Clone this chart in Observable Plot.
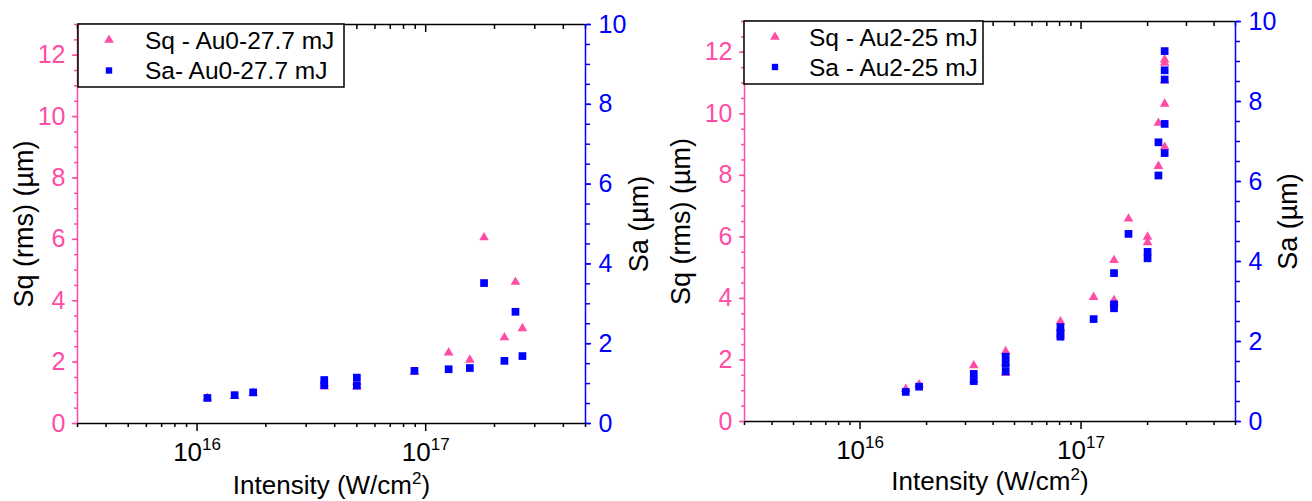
<!DOCTYPE html>
<html>
<head>
<meta charset="utf-8">
<script src="https://cdn.jsdelivr.net/npm/d3@7"></script>
<script src="https://cdn.jsdelivr.net/npm/@observablehq/plot@0.6"></script>
<style>
  body { margin: 0; background: #fff; }
  #fig { position: relative; width: 1312px; height: 501px; overflow: hidden; background: #fff;
         font-family: "Liberation Sans", Arial, sans-serif; }
  .layer { position: absolute; top: 0; }
  .layer svg { overflow: visible; }
</style>
</head>
<body>
<div id="fig"></div>
<script>
// ---------- colours ----------
const PINK = "#FF4DA6";
const BLUE = "#0000FF";
const FONT = "'Liberation Sans', Arial, sans-serif";

// ---------- axes / ticks ----------
const xDomain = [3e15, 5e17];
const xMajorTicks = [1e16, 1e17];
const xMinorTicks = [3e15, 4e15, 5e15, 6e15, 7e15, 8e15, 9e15,
                     2e16, 3e16, 4e16, 5e16, 6e16, 7e16, 8e16, 9e16,
                     2e17, 3e17, 4e17, 5e17];
const sqDomain = [0, 13];
const saDomain = [0, 10];
const sqMajorTicks = [0, 2, 4, 6, 8, 10, 12];
const sqMinorTicks = d3.range(0, 13.01, 0.5);
const saMajorTicks = [0, 2, 4, 6, 8, 10];
const saMinorTicks = d3.range(0, 10.01, 0.5);

const xTitle = "Intensity (W/cm^2)";
const sqTitle = "Sq (rms) (µm)";
const saTitle = "Sa (µm)";

// ---------- data: Au0 – 27.7 mJ ----------
const intensityAu0 = [1.11e16, 1.46e16, 1.76e16, 3.6e16, 3.6e16, 5.0e16, 5.0e16,
                      8.93e16, 1.26e17, 1.56e17, 1.80e17, 2.21e17, 2.47e17, 2.65e17];
const sqAu0 = [0.83, 0.89, 0.99, 1.2, 1.3, 1.2, 1.35, 1.68, 2.31, 2.07, 6.06, 2.80, 4.61, 3.10];
const saAu0 = [0.64, 0.71, 0.78, 0.96, 1.09, 0.95, 1.15, 1.32, 1.36, 1.39, 3.52, 1.57, 2.80, 1.69];
const legendAu0 = ["Sq - Au0-27.7 mJ", "Sa- Au0-27.7 mJ"];

// ---------- data: Au2 – 25 mJ ----------
const intensityAu2 = [1.61e16, 1.85e16, 3.27e16, 3.27e16, 4.56e16, 4.56e16, 4.56e16,
                      8.07e16, 8.07e16, 8.07e16, 1.14e17, 1.41e17, 1.41e17, 1.41e17,
                      1.64e17, 2.0e17, 2.0e17, 2.24e17, 2.24e17,
                      2.39e17, 2.39e17, 2.39e17, 2.39e17, 2.39e17];
const sqAu2 = [1.05, 1.2, 1.82, 1.34, 2.28, 1.9, 1.58,
               3.25, 3.0, 2.8, 4.04, 5.24, 3.94, 3.85,
               6.59, 6.0, 5.82, 9.7, 8.3,
               11.76, 11.65, 11.08, 10.32, 8.92];
const saAu2 = [0.74, 0.87, 1.19, 1.01, 1.62, 1.44, 1.25,
               2.36, 2.22, 2.12, 2.56, 3.71, 2.93, 2.83,
               4.69, 4.24, 4.08, 6.98, 6.15,
               9.26, 8.78, 8.55, 7.44, 6.71];
const legendAu2 = ["Sq - Au2-25 mJ", "Sa - Au2-25 mJ"];

// ---------- panel layout ----------
const panels = [
  { left: 0, width: 656, mt: 24, mb: 78, ml: 77, mr: 71,
    intensity: intensityAu0, sq: sqAu0, sa: saAu0, legend: legendAu0,
    sqTitleDx: -53, saTitleDx: 54, xTitleDy: 62, xTickPad: 11,
    leg: { x: 78, y: 24, w: 266, h: 63, mx: 31, tx: 67, b1: 48.5, b2: 79 } },
  { left: 656, width: 656, mt: 21, mb: 80, ml: 88, mr: 77,
    intensity: intensityAu2, sq: sqAu2, sa: saAu2, legend: legendAu2,
    sqTitleDx: -63, saTitleDx: 53, xTitleDy: 60, xTickPad: 11,
    leg: { x: 88, y: 21, w: 239, h: 63, mx: 31, tx: 65, b1: 45.5, b2: 75.5 } }
];

// turn "a^b rest" text into a with superscript b
function superscripts(svg) {
  const ns = "http://www.w3.org/2000/svg";
  svg.querySelectorAll("text").forEach(t => {
    const raw = t.textContent;
    const m = raw.match(/^(.*)\^(\d+)(.*)$/);
    if (!m) return;
    const isTick = m[1] === "10";
    const dy = isTick ? -11 : -10;
    t.textContent = m[1];
    const ts = document.createElementNS(ns, "tspan");
    ts.setAttribute("dy", String(dy));
    ts.setAttribute("font-size", "17");
    ts.textContent = m[2];
    t.appendChild(ts);
    if (m[3]) {
      const rest = document.createElementNS(ns, "tspan");
      rest.setAttribute("dy", String(-dy));
      rest.textContent = m[3];
      t.appendChild(rest);
    }
  });
}

const fig = document.getElementById("fig");

panels.forEach(p => {
  const common = {
    width: p.width, height: 501,
    marginTop: p.mt, marginBottom: p.mb, marginLeft: p.ml, marginRight: p.mr,
    x: { type: "log", domain: xDomain },
    style: { fontFamily: FONT, fontSize: "24px", background: "transparent", overflow: "visible", color: "black" }
  };

  // --- Sq layer (left axis, x axis, triangles) ---
  const sqPlot = Plot.plot({
    ...common,
    y: { domain: sqDomain },
    marks: [
      Plot.ruleY([0], { stroke: "black", strokeWidth: 1.5 }),
      Plot.ruleY([13], { stroke: "black", strokeWidth: 1.5 }),
      Plot.ruleX([xDomain[0]], { stroke: PINK, strokeWidth: 1.5 }),
      // bottom x axis
      Plot.axisX(xMinorTicks, { anchor: "bottom", tickSize: 4, fill: "none", stroke: "black", strokeWidth: 1.5, label: null }),
      Plot.axisX(xMajorTicks, { anchor: "bottom", tickSize: 8, tickPadding: p.xTickPad, stroke: "black", strokeWidth: 1.5,
        fill: "black", fontSize: 26, label: null,
        tickFormat: d => "10^" + Math.round(Math.log10(d)) }),
      // top inward ticks
      Plot.axisX(xMinorTicks, { anchor: "top", tickSize: 4, dy: 4, fill: "none", stroke: "black", strokeWidth: 1.5, label: null }),
      Plot.axisX(xMajorTicks, { anchor: "top", tickSize: 7, dy: 7, fill: "none", stroke: "black", strokeWidth: 1.5, label: null }),
      // left y axis (pink)
      Plot.axisY(sqMinorTicks, { anchor: "left", tickSize: 3, fill: "none", stroke: PINK, strokeWidth: 1.5, label: null }),
      Plot.axisY(sqMajorTicks, { anchor: "left", tickSize: 5, tickPadding: 7, stroke: PINK, fill: PINK,
        strokeWidth: 1.5, fontSize: 25, label: null }),
      // titles
      Plot.text([sqTitle], { text: d => d, frameAnchor: "left", dx: p.sqTitleDx, rotate: -90,
        textAnchor: "middle", lineAnchor: "middle", fontSize: 27, fill: "black" }),
      Plot.text([xTitle], { text: d => d, frameAnchor: "bottom", dy: p.xTitleDy,
        textAnchor: "middle", lineAnchor: "middle", fontSize: 26, fill: "black" }),
      // data
      Plot.dot(p.sq, { x: p.intensity, y: p.sq, symbol: "triangle", r: 3.6, fill: PINK })
    ]
  });
  superscripts(sqPlot);

  // --- Sa layer (right axis, squares) ---
  const saPlot = Plot.plot({
    ...common,
    x: { type: "log", domain: xDomain, axis: null },
    y: { domain: saDomain },
    marks: [
      Plot.ruleX([xDomain[1]], { stroke: BLUE, strokeWidth: 1.5 }),
      Plot.axisY(saMinorTicks, { anchor: "right", tickSize: 4, fill: "none", stroke: BLUE, strokeWidth: 1.5, label: null }),
      Plot.axisY(saMajorTicks, { anchor: "right", tickSize: 5, tickPadding: 8, stroke: BLUE, fill: BLUE,
        strokeWidth: 1.5, fontSize: 25, label: null }),
      Plot.text([saTitle], { text: d => d, frameAnchor: "right", dx: p.saTitleDx, rotate: -90,
        textAnchor: "middle", lineAnchor: "middle", fontSize: 27, fill: "black" }),
      Plot.dot(p.sa, { x: p.intensity, y: p.sa, symbol: "square", r: 4.35, fill: BLUE })
    ]
  });

  const l1 = document.createElement("div");
  l1.className = "layer"; l1.style.left = p.left + "px";
  l1.appendChild(sqPlot);
  const l2 = document.createElement("div");
  l2.className = "layer"; l2.style.left = p.left + "px";
  l2.appendChild(saPlot);
  fig.appendChild(l1);
  fig.appendChild(l2);

  // --- legend box ---
  const L = p.leg;
  const ns = "http://www.w3.org/2000/svg";
  const lg = document.createElementNS(ns, "svg");
  lg.setAttribute("width", L.w + 2);
  lg.setAttribute("height", L.h + 2);
  lg.style.position = "absolute";
  lg.style.left = (p.left + L.x - 1) + "px";
  lg.style.top = (L.y - 1) + "px";
  const cy1 = L.b1 - L.y - 8.5 + 1, cy2 = L.b2 - L.y - 8.5 + 1, cx = L.mx + 1;
  lg.innerHTML = `
    <rect x="1" y="1" width="${L.w}" height="${L.h}" fill="#fff" stroke="#000" stroke-width="1.5"/>
    <path d="${d3.symbol(d3.symbolTriangle, Math.PI * 3.6 * 3.6)()}" transform="translate(${cx},${cy1})" fill="${PINK}"/>
    <path d="${d3.symbol(d3.symbolSquare, Math.PI * 3.6 * 3.6)()}" transform="translate(${cx},${cy2})" fill="${BLUE}"/>
    <text x="${L.tx + 1}" y="${L.b1 - L.y + 1}" font-family="${FONT}" font-size="24.5" fill="#000">${p.legend[0]}</text>
    <text x="${L.tx + 1}" y="${L.b2 - L.y + 1}" font-family="${FONT}" font-size="24.5" fill="#000">${p.legend[1]}</text>`;
  fig.appendChild(lg);
});
</script>
</body>
</html>
